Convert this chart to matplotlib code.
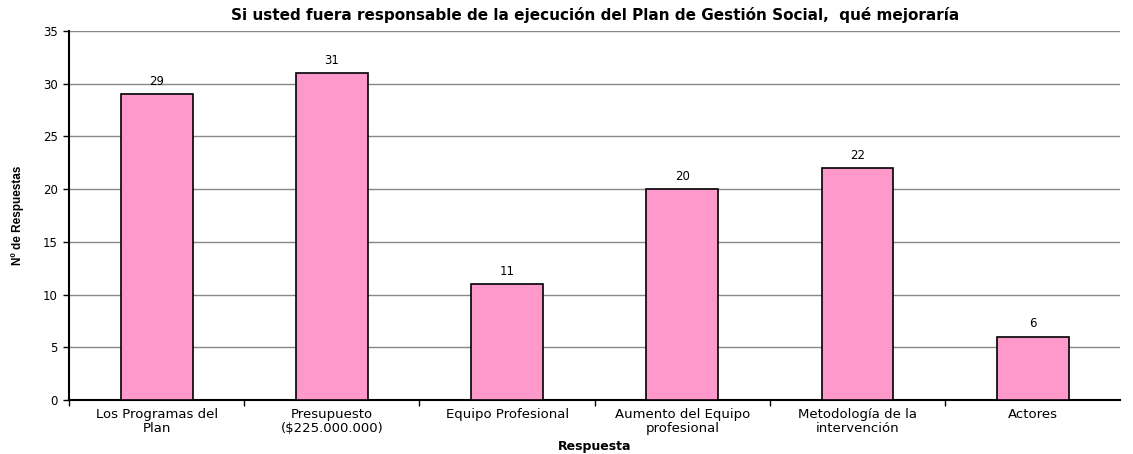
import matplotlib.pyplot as plt
import numpy as np

plt.rcParams['font.family'] = ['DejaVu Sans']

categorias = ["Los Programas del\nPlan", "Presupuesto\n($225.000.000)", "Equipo Profesional",
              "Aumento del Equipo\nprofesional", "Metodología de la\nintervención", "Actores"]
respuestas = [29, 31, 11, 20, 22, 6]


def run():
    fig = plt.figure(figsize=(11.33, 4.54), dpi=100)
    ax = fig.add_axes([0.0609, 0.1189, 0.928, 0.8128])

    x = np.arange(len(categorias))
    bars = ax.bar(x, respuestas, width=0.41, color='#FF99CC', edgecolor='black', linewidth=1.2, zorder=3)

    # etiquetas de valor encima de cada barra
    for b, v in zip(bars, respuestas):
        ax.text(b.get_x() + b.get_width() / 2, v + 0.6, str(v), ha='center', va='bottom', fontsize=8.5)

    ax.set_xlim(-0.5, len(categorias) - 0.5)
    ax.set_ylim(0, 35)
    ax.set_yticks(range(0, 36, 5))
    ax.yaxis.grid(True, color='#888888', linewidth=1, zorder=0)

    ax.set_xticks(x)
    ax.set_xticklabels(categorias, fontsize=9.5, linespacing=1.1)
    ax.tick_params(axis='x', length=0, pad=6)
    ax.set_xticks(np.arange(-0.5, len(categorias) - 0.9, 1), minor=True)
    ax.tick_params(axis='x', which='minor', length=4, width=1)
    ax.tick_params(axis='y', labelsize=8.5, length=4, width=1, pad=4)

    for s in ['top', 'right']:
        ax.spines[s].set_visible(False)
    ax.spines['left'].set_linewidth(1.5)
    ax.spines['bottom'].set_linewidth(1.5)

    ax.set_title("Si usted fuera responsable de la ejecución del Plan de Gestión Social,  qué mejoraría",
                 fontsize=11, fontweight='bold', pad=8)
    ax.set_xlabel("Respuesta", fontsize=9, fontweight='bold')
    ax.xaxis.set_label_coords(0.5, -0.108)
    ax.set_ylabel("Nº de Respuestas", fontsize=8.5, fontweight='bold', family='Liberation Sans')
    ax.yaxis.set_label_coords(-0.043, 0.5)

    fig.savefig("out.png", dpi=100)


run()
